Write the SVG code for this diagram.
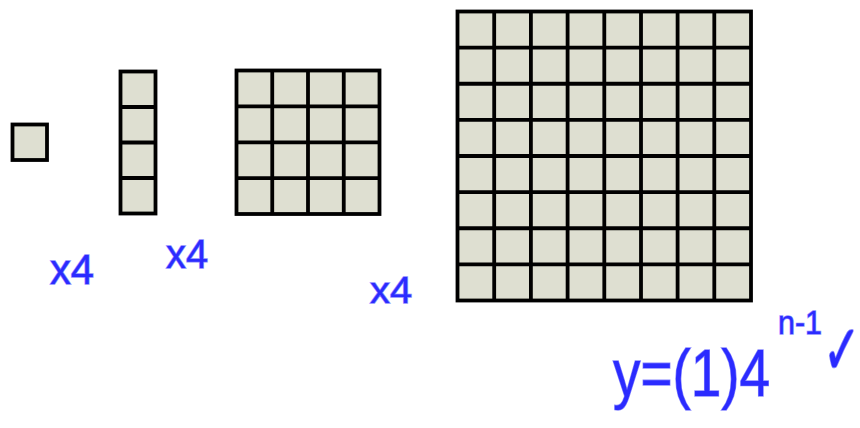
<svg xmlns="http://www.w3.org/2000/svg" width="860" height="428" viewBox="0 0 860 428">
  <style>
    .tile { fill: #dedfd1; stroke: #000; stroke-width: 3.8; }
    .grid { fill: none; stroke: #000; stroke-width: 3.8; }
    .hand { font-family: "Liberation Sans", "DejaVu Sans", sans-serif; fill: #2b2bff; stroke: #8c8cff; stroke-width: 1.4; paint-order: stroke; }
  </style>
  <rect width="860" height="428" fill="#fff"/>
  <g id="stage1">
    <rect class="tile" x="12.5" y="124.5" width="34.5" height="35.5"/>
  </g>
  <g id="stage2">
    <rect class="tile" x="120.5" y="71.5" width="35" height="142"/>
    <path class="grid" d="M120.5 107H155.5M120.5 142.5H155.5M120.5 178H155.5"/>
  </g>
  <g id="stage3">
    <rect class="tile" x="236.5" y="70.5" width="143" height="143.5"/>
    <path class="grid" d="M272.25 70.5V214M308 70.5V214M343.75 70.5V214M236.5 106.4H379.5M236.5 142.3H379.5M236.5 178.1H379.5"/>
  </g>
  <g id="stage4">
    <rect class="tile" x="457.5" y="11.5" width="293.5" height="289"/>
    <path class="grid" d="M494.2 11.5V300.5M530.9 11.5V300.5M567.6 11.5V300.5M604.3 11.5V300.5M641 11.5V300.5M677.6 11.5V300.5M714.3 11.5V300.5M457.5 47.6H751M457.5 83.75H751M457.5 119.9H751M457.5 156H751M457.5 192.1H751M457.5 228.25H751M457.5 264.4H751"/>
  </g>
  <g id="connectors">
    <text class="hand" x="50" y="284" font-size="42" textLength="44" lengthAdjust="spacingAndGlyphs">x4</text>
    <text class="hand" x="166" y="268" font-size="40" textLength="42" lengthAdjust="spacingAndGlyphs">x4</text>
    <text class="hand" x="370" y="303" font-size="36" textLength="42" lengthAdjust="spacingAndGlyphs">x4</text>
  </g>
  <g id="formula">
    <text class="hand" x="613" y="396" font-size="66" textLength="157" lengthAdjust="spacingAndGlyphs">y=(1)4</text>
    <text class="hand" x="778" y="334" font-size="34" textLength="44" lengthAdjust="spacingAndGlyphs">n-1</text>
    <text class="hand" transform="translate(823 374) scale(0.9 1.4)" font-size="50">✓</text>
  </g>
</svg>
